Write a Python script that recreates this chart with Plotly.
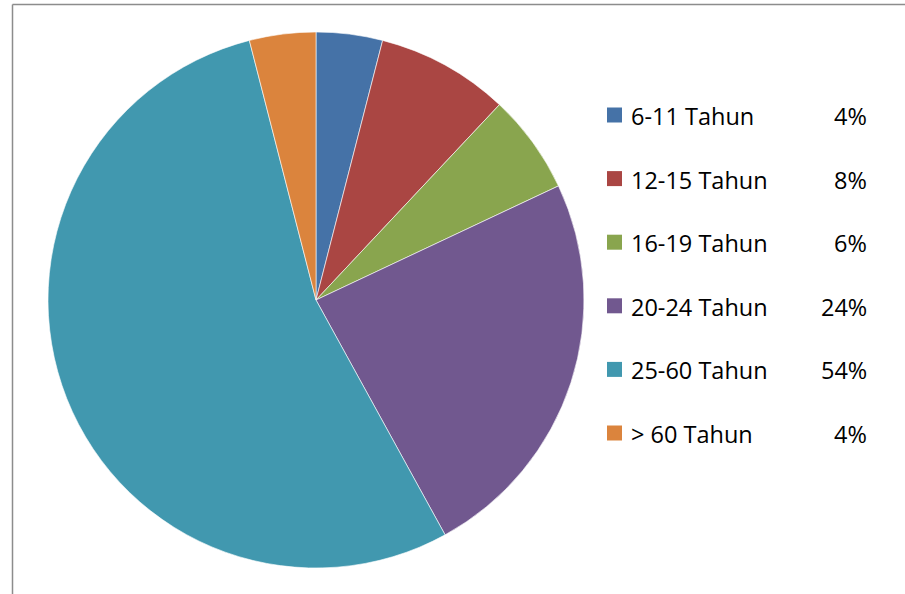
import plotly.graph_objects as go

categories = ["6-11 Tahun", "12-15 Tahun", "16-19 Tahun", "20-24 Tahun", "25-60 Tahun", "> 60 Tahun"]
values = [4, 8, 6, 24, 54, 4]
colors = ["#4572A7", "#AA4643", "#89A54E", "#71588F", "#4198AF", "#DB843D"]

W, H = 905, 594
fig = go.Figure(go.Pie(
    labels=categories, values=values, sort=False, direction="clockwise", rotation=0,
    marker=dict(colors=colors, line=dict(color="white", width=0.6)),
    textinfo="none", hoverinfo="label+percent", showlegend=False,
    domain=dict(x=[48 / W, 584 / W], y=[26 / H, 562 / H]),
))

font = dict(family="Open Sans, Liberation Sans, sans-serif", size=23.5, color="#000000")
row0, step = 115, 63.6
for i, (c, v, col) in enumerate(zip(categories, values, colors)):
    yc = row0 + i * step
    fig.add_shape(type="rect", xref="paper", yref="paper",
                  x0=607 / W, x1=622 / W, y0=1 - (yc + 7.5) / H, y1=1 - (yc - 7.5) / H,
                  fillcolor=col, line=dict(width=0))
    fig.add_annotation(xref="paper", yref="paper", x=629 / W, y=1 - (yc + 1) / H,
                       text=c, showarrow=False, xanchor="left", yanchor="middle", font=font)
    fig.add_annotation(xref="paper", yref="paper", x=869 / W, y=1 - (yc + 1) / H,
                       text=f"{v}%", showarrow=False, xanchor="right", yanchor="middle", font=font)

# frame lines
fig.add_shape(type="line", xref="paper", yref="paper", x0=12.5 / W, x1=1, y0=1 - 4.5 / H, y1=1 - 4.5 / H,
              line=dict(color="#8c8c8c", width=1.5))
fig.add_shape(type="line", xref="paper", yref="paper", x0=12.5 / W, x1=12.5 / W, y0=0, y1=1 - 4.5 / H,
              line=dict(color="#8c8c8c", width=1.5))

fig.update_layout(width=W, height=H, margin=dict(l=0, r=0, t=0, b=0),
                  paper_bgcolor="white", plot_bgcolor="white")
fig.write_html("out.html", config={"displayModeBar": False},
               post_script="document.body.style.margin='0';document.body.style.overflow='hidden';")
